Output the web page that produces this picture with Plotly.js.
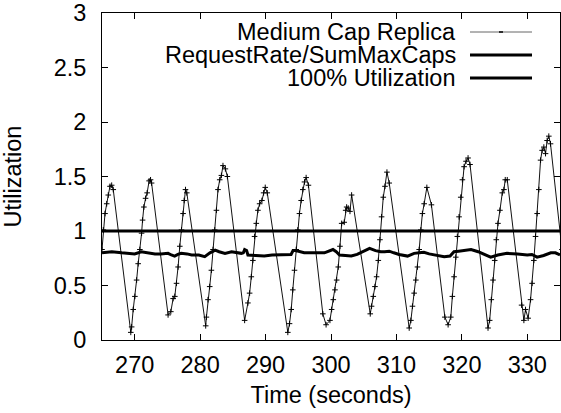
<!DOCTYPE html>
<html>
<head>
<meta charset="utf-8">
<script src="https://cdn.plot.ly/plotly-3.0.1.min.js"></script>
<style>html,body{margin:0;padding:0;background:#fff;}#chart{width:561px;height:413px;}</style>
</head>
<body>
<div id="chart"></div>
<script>
// ---- Data ----
const replicaTime = [
  265.0,265.2,265.46,265.72,265.96,266.22,266.48,266.72,
  269.4,269.53,269.77,270.03,270.29,270.53,270.79,271.05,271.2,271.4,271.66,271.9,272.2,272.42,272.58,
  275.1,275.52,275.87,276.13,276.39,276.63,276.89,277.15,277.39,277.55,277.76,277.96,
  280.85,280.96,281.2,281.46,281.72,281.97,282.23,282.49,282.73,282.99,283.25,283.49,283.86,284.16,
  286.8,287.3,287.56,287.82,288.06,288.32,288.58,288.83,289.09,289.44,289.7,289.95,290.26,
  293.4,293.66,293.92,294.16,294.42,294.68,294.92,295.18,295.44,295.69,295.95,296.2,296.55,
  298.75,299.25,299.84,300.1,300.35,300.61,300.87,301.11,301.37,301.63,302.02,302.24,302.39,302.63,302.9,303.15,
  306.0,306.2,306.46,306.72,306.97,307.23,307.48,307.73,307.99,308.25,308.55,308.9,
  311.95,312.21,312.45,312.71,312.97,313.22,313.48,313.73,313.97,314.24,314.65,315.35,
  317.4,317.9,318.31,318.55,318.81,319.07,319.31,319.57,319.83,320.08,320.34,320.64,320.95,321.25,
  324.0,324.25,324.5,324.76,325.02,325.26,325.52,325.82,326.18,326.43,326.63,326.94,
  329.13,329.48,329.73,330.13,330.5,330.74,331.0,331.26,331.51,331.77,332.03,332.27,332.53,332.79,333.03,333.29,333.55,
  335.3
];
const replicaUtil = [
  0.83,1.01,1.16,1.25,1.33,1.41,1.42,1.38,
  0.07,0.12,0.28,0.40,0.55,0.70,0.83,0.98,1.10,1.22,1.30,1.35,1.46,1.47,1.44,
  0.23,0.26,0.38,0.40,0.52,0.67,0.86,1.01,1.16,1.28,1.38,1.35,
  0.13,0.21,0.37,0.49,0.64,0.83,1.01,1.19,1.38,1.47,1.51,1.60,1.57,1.50,
  0.18,0.34,0.43,0.58,0.73,0.95,1.07,1.19,1.25,1.28,1.35,1.40,1.35,
  0.07,0.15,0.28,0.46,0.64,0.83,1.01,1.16,1.28,1.38,1.45,1.49,1.42,
  0.24,0.14,0.18,0.28,0.37,0.46,0.55,0.67,0.86,1.07,1.08,1.19,1.22,1.21,1.18,1.33,
  0.24,0.31,0.40,0.49,0.58,0.73,0.92,1.13,1.31,1.41,1.54,1.44,
  0.11,0.18,0.31,0.43,0.55,0.67,0.83,1.01,1.16,1.25,1.40,1.24,
  0.21,0.14,0.21,0.40,0.58,0.76,0.95,1.13,1.31,1.47,1.59,1.64,1.67,1.61,
  0.11,0.18,0.37,0.55,0.73,0.92,1.07,1.19,1.35,1.38,1.47,1.47,
  0.32,0.18,0.28,0.20,0.37,0.52,0.73,0.95,1.16,1.38,1.65,1.74,1.77,1.71,1.83,1.87,1.80,
  0.83
];
const rateTime = [
  265.0,266.5,268.0,269.0,270.0,271.0,272.0,273.1,274.0,275.1,275.6,276.1,276.6,277.1,278.0,278.7,279.8,
  280.7,281.5,282.3,282.9,283.8,284.8,285.5,286.3,286.6,286.8,287.1,287.3,288.5,289.8,291.0,292.5,293.9,
  294.2,294.6,295.9,297.5,299.0,300.3,300.8,301.3,302.2,303.1,304.0,305.0,305.9,306.8,307.6,308.2,308.9,
  309.6,310.4,311.7,312.2,312.7,313.5,314.2,315.0,315.8,317.3,318.2,318.8,319.5,320.5,321.4,322.5,323.5,
  324.4,325.5,326.9,328.5,330.0,330.7,331.5,332.5,333.6,334.3,335.0
];
const rateUtil = [
  0.80,0.81,0.80,0.795,0.79,0.81,0.80,0.79,0.79,0.795,0.78,0.77,0.785,0.795,0.79,0.78,0.78,
  0.765,0.80,0.825,0.81,0.795,0.81,0.80,0.795,0.80,0.83,0.82,0.78,0.775,0.77,0.78,0.785,0.785,
  0.82,0.82,0.80,0.80,0.80,0.83,0.81,0.78,0.775,0.77,0.785,0.815,0.84,0.82,0.81,0.81,0.815,
  0.80,0.785,0.77,0.78,0.795,0.80,0.805,0.79,0.78,0.765,0.77,0.81,0.815,0.82,0.83,0.81,0.785,
  0.76,0.78,0.795,0.79,0.78,0.785,0.76,0.775,0.80,0.80,0.78
];
const fullTime = [265, 335];
const fullUtil = [1, 1];
const seriesNames = ["Medium Cap Replica", "RequestRate/SumMaxCaps", "100% Utilization"];
const xTicks = [270, 280, 290, 300, 310, 320, 330];
const yTicks = [0, 0.5, 1, 1.5, 2, 2.5, 3];

// ---- Layout geometry ----
const W = 561, H = 413, ML = 102, MR = 1, MT = 13, MB = 73;
const PW = W - ML - MR, PH = H - MT - MB;
const px = x => (x - ML) / PW;
const py = y => (H - MB - y) / PH;
const FONT = "Liberation Sans, Arial, Helvetica, sans-serif";
const FS = 23.5;

const traces = [
  {x: replicaTime, y: replicaUtil, name: seriesNames[0], type: "scatter", mode: "lines+markers",
   line: {color: "#111", width: 1},
   marker: {symbol: "cross-thin", size: 4, color: "#000", line: {color: "#000", width: 1}}},
  {x: rateTime, y: rateUtil, name: seriesNames[1], type: "scatter", mode: "lines",
   line: {color: "#000", width: 3}},
  {x: fullTime, y: fullUtil, name: seriesNames[2], type: "scatter", mode: "lines",
   line: {color: "#000", width: 3}}
];

// manual legend (text left of the sample, gnuplot style)
const legRows = [32, 55, 78];
const annotations = seriesNames.map((n, i) => ({
  text: n, xref: "paper", yref: "paper", x: px(457), y: py(legRows[i]),
  xanchor: "right", yanchor: "middle", showarrow: false, borderpad: 0,
  font: {family: FONT, size: FS, color: "#000"}
}));
const shapes = [
  {type: "line", xref: "paper", yref: "paper", x0: px(470), x1: px(532), y0: py(legRows[0]), y1: py(legRows[0]), line: {color: "#666", width: 1}},
  {type: "line", xref: "paper", yref: "paper", x0: px(499), x1: px(503), y0: py(legRows[0]), y1: py(legRows[0]), line: {color: "#000", width: 1.5}},
  {type: "line", xref: "paper", yref: "paper", x0: px(470), x1: px(532), y0: py(legRows[1]), y1: py(legRows[1]), line: {color: "#000", width: 3}},
  {type: "line", xref: "paper", yref: "paper", x0: px(470), x1: px(532), y0: py(legRows[2]), y1: py(legRows[2]), line: {color: "#000", width: 3}}
];

const axisCommon = {
  showgrid: false, zeroline: false, showline: true, linecolor: "#000", linewidth: 1,
  mirror: "allticks", ticks: "inside", ticklen: 6, tickwidth: 1, tickcolor: "#000",
  tickfont: {family: FONT, size: FS, color: "#000"}
};

const layout = {
  width: W, height: H,
  margin: {l: ML, r: MR, t: MT, b: MB, pad: 0},
  paper_bgcolor: "#fff", plot_bgcolor: "#fff",
  showlegend: false,
  font: {family: FONT, size: FS, color: "#000"},
  xaxis: Object.assign({}, axisCommon, {
    range: [265, 335], tickvals: xTicks, ticktext: xTicks.map(String),
    ticklabelstandoff: 4,
    title: {text: "Time (seconds)", font: {family: FONT, size: FS, color: "#000"}, standoff: 9}
  }),
  yaxis: Object.assign({}, axisCommon, {
    range: [0, 3], tickvals: yTicks, ticktext: yTicks.map(String),
    ticklabelstandoff: 10,
    title: {text: "Utilization", font: {family: FONT, size: FS, color: "#000"}, standoff: 26}
  }),
  annotations: annotations,
  shapes: shapes
};

Plotly.newPlot("chart", traces, layout, {displayModeBar: false, staticPlot: true});
</script>
</body>
</html>
